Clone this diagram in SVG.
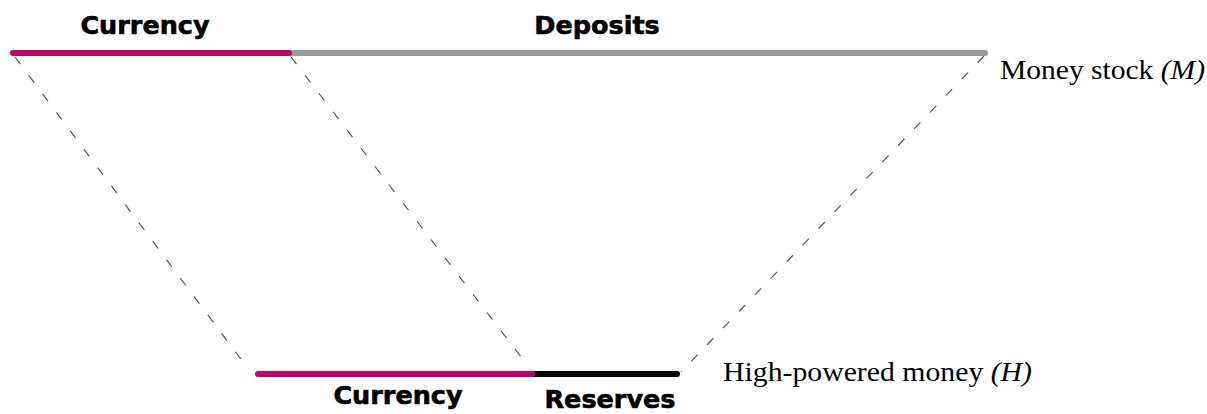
<svg xmlns="http://www.w3.org/2000/svg" width="1207" height="414" viewBox="0 0 1207 414">
<style>
.bar{stroke-width:6;stroke-linecap:round;fill:none}
.cur{stroke:#c2006f}
.dep{stroke:#999999}
.res{stroke:#000000}
.dash{stroke:#555555;stroke-width:1.2;stroke-dasharray:9 14;fill:none}
.lbl{font-family:"DejaVu Sans",sans-serif;font-weight:bold;font-size:25.5px;fill:#000;stroke:#000;stroke-width:0.6;text-anchor:middle}
.ser{font-family:"Liberation Serif","Times New Roman",serif;font-size:27px;fill:#000}
</style>
<rect width="1207" height="414" fill="#ffffff"/>
<g id="connectors">
<line class="dash" x1="15" y1="57" x2="246" y2="366"/>
<line class="dash" x1="291" y1="57" x2="528" y2="366"/>
<line class="dash" x1="984" y1="56" x2="681" y2="372"/>
</g>
<g id="money-stock">
<line class="bar dep" x1="289" y1="53" x2="985" y2="53"/>
<line class="bar cur" x1="13" y1="53" x2="289" y2="53"/>
<text class="lbl" x="145" y="34">Currency</text>
<text class="lbl" x="597" y="34">Deposits</text>
<text class="ser" x="1000" y="79" textLength="205" lengthAdjust="spacingAndGlyphs">Money stock <tspan font-style="italic">(M)</tspan></text>
</g>
<g id="high-powered-money">
<line class="bar res" x1="532" y1="374" x2="677" y2="374"/>
<line class="bar cur" x1="258" y1="374" x2="532" y2="374"/>
<text class="lbl" x="398" y="404">Currency</text>
<text class="lbl" x="610" y="408">Reserves</text>
<text class="ser" x="723" y="381" textLength="309" lengthAdjust="spacingAndGlyphs">High-powered money <tspan font-style="italic">(H)</tspan></text>
</g>
</svg>
